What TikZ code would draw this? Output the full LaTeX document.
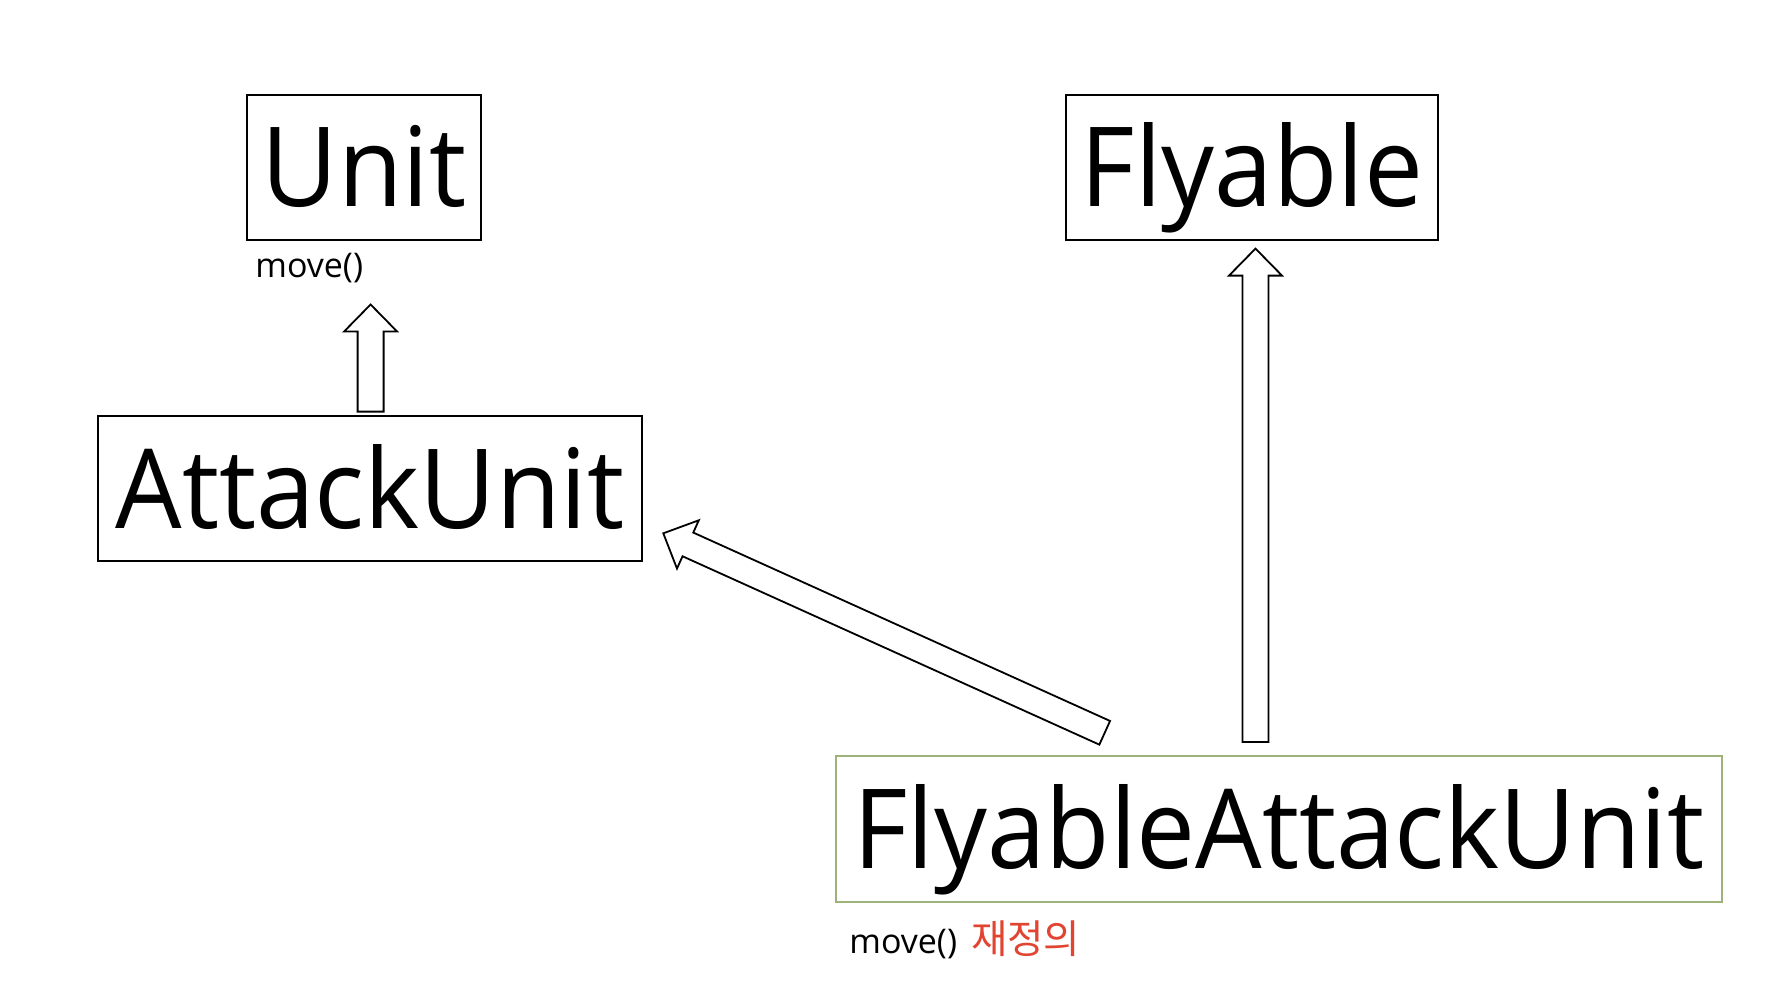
\documentclass[tikz,border=0pt]{standalone}
\usepackage{fontspec}
\setmainfont{Open Sans}
\newfontfamily\bigfont[FakeStretch=0.95]{Open Sans}
\newfontfamily\krfont{Noto Sans CJK KR}
\usetikzlibrary{calc}
\definecolor{boxgreen}{RGB}{158,178,124}
\definecolor{kred}{RGB}{226,68,50}
\tikzset{
  cls/.style={draw=black, line width=1pt, inner sep=0pt, text height=39.5pt, text depth=0pt,
    font=\bigfont\fontsize{55.3pt}{60pt}\selectfont},
  greencls/.style={cls, draw=boxgreen},
  method/.style={inner sep=0pt, anchor=base west, font=\fontsize{17pt}{20pt}\selectfont},
  hollowarrow/.style={draw=black, line width=0.9pt, fill=white, line join=miter},
}
\newcommand\fatarrow[2]{%
  \path ($(#2)!13.5pt!(#1)$) coordinate (hb);
  \draw[hollowarrow] ($(#1)!6.5pt!90:(#2)$) -- ($(hb)!6.5pt!90:(#2)$) -- ($(hb)!13.25pt!90:(#2)$)
    -- (#2) -- ($(hb)!13.25pt!-90:(#2)$) -- ($(hb)!6.5pt!-90:(#2)$) -- ($(#1)!6.5pt!-90:(#2)$) -- cycle;}
\begin{document}
\begin{tikzpicture}[x=0.5pt, y=-0.5pt]
  \path[use as bounding box, fill=white] (0,0) rectangle (1788,1006);
  % class boxes
  \node[cls, minimum width=117pt, minimum height=72.25pt] (unit) at (364,167.3) {Unit};
  \node[cls, minimum width=186pt, minimum height=72.25pt] (flyable) at (1252,167.3) {Flyable};
  \node[cls, minimum width=272pt, minimum height=72.5pt] (attack) at (370,488.5) {AttackUnit};
  \node[greencls, minimum width=443pt, minimum height=73pt] (fau) at (1279,829) {FlyableAttackUnit};
  % method labels
  \node[method] (unitm) at (255,277) {move()};
  \node[method] (faum) at (849,953) {move()\hspace{7pt}{\krfont\fontsize{19.8pt}{22pt}\selectfont\color{kred}재정의}};
  % arrow end points
  \coordinate (a1tail) at (370.6,411.6);
  \coordinate (a1tip) at (370.6,304.5);
  \coordinate (a2tail) at (1255.5,742);
  \coordinate (a2tip) at (1255.5,248.6);
  \coordinate (a3tail) at (1104.7,732.8);
  \coordinate (a3tip) at (663.3,533.3);
  \fatarrow{a1tail}{a1tip}
  \fatarrow{a2tail}{a2tip}
  \fatarrow{a3tail}{a3tip}
\end{tikzpicture}
\end{document}
